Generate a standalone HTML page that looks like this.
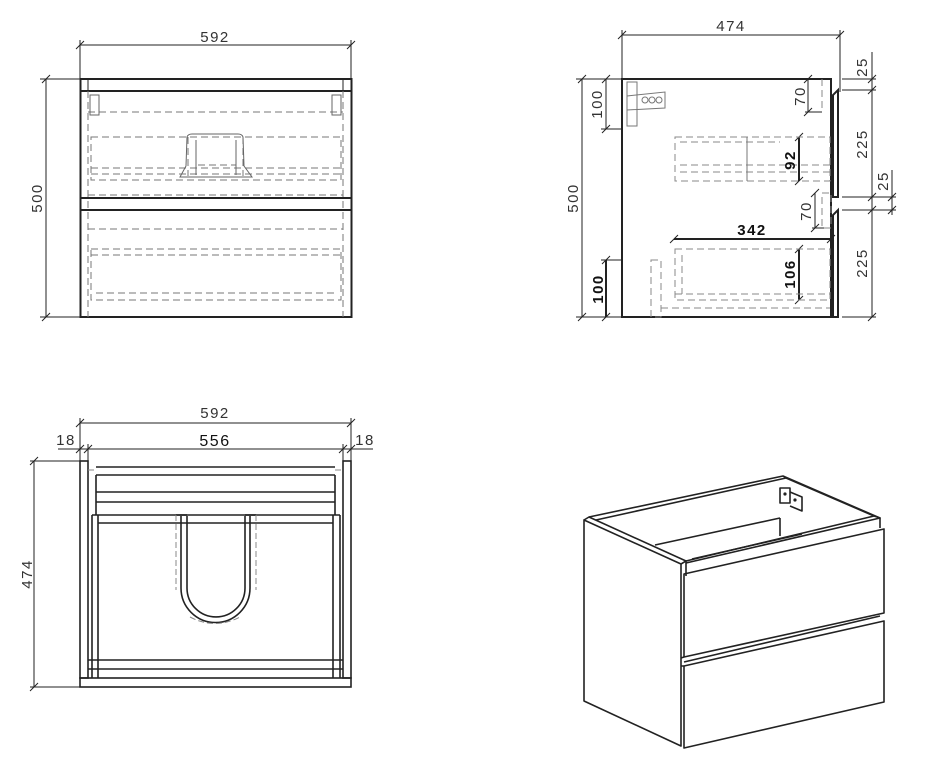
<!DOCTYPE html>
<html><head><meta charset="utf-8"><style>
html,body{margin:0;padding:0;background:#fff}
svg{display:block}
text{font-family:"Liberation Sans",sans-serif;font-size:15px;font-weight:normal;fill:#333;stroke:none;letter-spacing:1.5px}
.b{font-weight:bold;fill:#111}
</style></head><body>
<svg width="929" height="772" viewBox="0 0 929 772" xmlns="http://www.w3.org/2000/svg">
<g fill="none" stroke="#222" stroke-width="1">
<!-- ========== FRONT VIEW ========== -->
<g>
<line x1="80" y1="45" x2="351" y2="45"/>
<line x1="80" y1="40" x2="80" y2="79"/>
<line x1="351" y1="40" x2="351" y2="79"/>
<line x1="76" y1="49" x2="84" y2="41"/><line x1="347" y1="49" x2="355" y2="41"/>
<line x1="46" y1="79" x2="46" y2="317"/>
<line x1="40" y1="79" x2="80" y2="79"/><line x1="40" y1="317" x2="80" y2="317"/>
<line x1="42" y1="83" x2="50" y2="75"/><line x1="42" y1="321" x2="50" y2="313"/>
<rect x="80.5" y="79" width="271" height="238" stroke-width="2"/>
<line x1="80" y1="91" x2="351" y2="91" stroke-width="2"/>
<line x1="88" y1="79" x2="88" y2="91"/><line x1="343" y1="79" x2="343" y2="91"/>
<line x1="80" y1="198" x2="351" y2="198" stroke-width="2"/>
<line x1="80" y1="210" x2="351" y2="210" stroke-width="2"/>
<g stroke="#777" stroke-dasharray="7,4">
<line x1="88" y1="91" x2="88" y2="317"/><line x1="343" y1="91" x2="343" y2="317"/>
<line x1="88" y1="112" x2="343" y2="112"/>
<rect x="91" y="137" width="250" height="43"/>
<line x1="91" y1="168" x2="341" y2="168"/><line x1="91" y1="174" x2="341" y2="174"/>
<line x1="88" y1="195" x2="343" y2="195"/>
<line x1="88" y1="229" x2="343" y2="229"/>
<rect x="91" y="249" width="250" height="51"/>
<line x1="91" y1="255" x2="341" y2="255"/><line x1="96" y1="293" x2="336" y2="293"/>
<line x1="188" y1="137" x2="188" y2="176"/><line x1="243" y1="137" x2="243" y2="176"/>
<line x1="198" y1="165" x2="236" y2="165"/>
</g>
<g stroke="#666">
<rect x="90" y="95" width="9" height="20"/><rect x="332" y="95" width="9" height="20"/>
<path d="M180 177 L186 166 L187 137 Q188 134 192 134 L238 134 Q242 134 243 137 L244 166 L252 177 Z"/>
<line x1="196" y1="140" x2="196" y2="175"/><line x1="236" y1="140" x2="236" y2="175"/>
</g>
</g>
<text x="215" y="42" text-anchor="middle">592</text>
<text transform="translate(42,198) rotate(-90)" text-anchor="middle">500</text>

<!-- ========== SIDE VIEW ========== -->
<g>
<line x1="622" y1="35" x2="840" y2="35"/>
<line x1="622" y1="30" x2="622" y2="79"/><line x1="840" y1="30" x2="840" y2="92"/>
<line x1="618" y1="39" x2="626" y2="31"/><line x1="836" y1="39" x2="844" y2="31"/>
<line x1="582" y1="79" x2="582" y2="317"/>
<line x1="576" y1="79" x2="622" y2="79"/><line x1="576" y1="317" x2="622" y2="317"/>
<line x1="578" y1="83" x2="586" y2="75"/><line x1="578" y1="321" x2="586" y2="313"/>
<line x1="606" y1="79" x2="606" y2="129"/><line x1="601" y1="129" x2="622" y2="129"/>
<line x1="602" y1="133" x2="610" y2="125"/><line x1="602" y1="83" x2="610" y2="75"/>
<line x1="606" y1="260" x2="606" y2="317" stroke-width="2"/><line x1="601" y1="260" x2="622" y2="260"/>
<line x1="602" y1="264" x2="610" y2="256"/><line x1="602" y1="321" x2="610" y2="313"/>
<line x1="808" y1="79" x2="808" y2="112"/><line x1="805" y1="112" x2="822" y2="112"/>
<line x1="804" y1="83" x2="812" y2="75"/><line x1="804" y1="116" x2="812" y2="108"/>
<line x1="799" y1="137" x2="799" y2="181" stroke-width="2"/>
<line x1="795" y1="141" x2="803" y2="133"/><line x1="795" y1="185" x2="803" y2="177"/>
<line x1="815" y1="193" x2="815" y2="228"/><line x1="812" y1="228" x2="825" y2="228"/>
<line x1="811" y1="197" x2="819" y2="189"/><line x1="811" y1="232" x2="819" y2="224"/>
<line x1="674" y1="239" x2="831" y2="239" stroke-width="2"/>
<line x1="670" y1="243" x2="678" y2="235"/><line x1="827" y1="243" x2="835" y2="235"/>
<line x1="799" y1="249" x2="799" y2="300" stroke-width="2"/>
<line x1="795" y1="253" x2="803" y2="245"/><line x1="795" y1="304" x2="803" y2="296"/>
<line x1="872" y1="52" x2="872" y2="317"/>
<line x1="892" y1="170" x2="892" y2="215"/>
<line x1="842" y1="79" x2="876" y2="79"/><line x1="842" y1="90" x2="876" y2="90"/>
<line x1="842" y1="197" x2="896" y2="197"/><line x1="842" y1="210" x2="896" y2="210"/>
<line x1="842" y1="317" x2="876" y2="317"/>
<line x1="868" y1="83" x2="876" y2="75"/><line x1="868" y1="94" x2="876" y2="86"/>
<line x1="868" y1="201" x2="876" y2="193"/><line x1="868" y1="214" x2="876" y2="206"/>
<line x1="868" y1="321" x2="876" y2="313"/>
<line x1="888" y1="201" x2="896" y2="193"/><line x1="888" y1="214" x2="896" y2="206"/>
<path d="M622 317 L622 79 L831 79 L831 317 Z" stroke-width="2"/>
<path d="M833 197 L833 95 L838 90 L838 197 Z" stroke-width="2"/>
<path d="M833 317 L833 215 L838 210 L838 317 Z" stroke-width="2"/>
<g stroke="#888" stroke-dasharray="7,4">
<line x1="822" y1="79" x2="822" y2="112"/>
<rect x="675" y="137" width="155" height="44"/>
<line x1="680" y1="142" x2="780" y2="142"/><line x1="680" y1="165" x2="830" y2="165"/>
<line x1="680" y1="172" x2="830" y2="172"/>
<rect x="822" y="193" width="9" height="35"/>
<rect x="675" y="249" width="155" height="51"/>
<line x1="682" y1="255" x2="682" y2="294"/><line x1="675" y1="294" x2="830" y2="294"/>
<rect x="651" y="260" width="10" height="57"/>
<line x1="661" y1="308" x2="830" y2="308"/>
</g>
<g stroke="#777">
<rect x="627" y="82" width="10" height="44"/>
<path d="M627 96 L665 92 L665 108 L627 110 Z"/>
<circle cx="645" cy="100" r="3"/><circle cx="652" cy="100" r="3"/><circle cx="659" cy="100" r="3"/>
<line x1="747" y1="137" x2="747" y2="181"/>
</g>
</g>
<text x="731" y="31" text-anchor="middle">474</text>
<text transform="translate(578,198) rotate(-90)" text-anchor="middle">500</text>
<text transform="translate(602,104) rotate(-90)" text-anchor="middle">100</text>
<text class="b" transform="translate(603,289) rotate(-90)" text-anchor="middle">100</text>
<text transform="translate(805,96) rotate(-90)" text-anchor="middle">70</text>
<text class="b" transform="translate(795,160) rotate(-90)" text-anchor="middle">92</text>
<text transform="translate(811,211) rotate(-90)" text-anchor="middle">70</text>
<text class="b" x="752" y="235" text-anchor="middle">342</text>
<text class="b" transform="translate(795,274) rotate(-90)" text-anchor="middle">106</text>
<text transform="translate(867,67) rotate(-90)" text-anchor="middle">25</text>
<text transform="translate(867,144) rotate(-90)" text-anchor="middle">225</text>
<text transform="translate(888,181) rotate(-90)" text-anchor="middle">25</text>
<text transform="translate(867,263) rotate(-90)" text-anchor="middle">225</text>

<!-- ========== TOP VIEW ========== -->
<g>
<line x1="80" y1="423" x2="351" y2="423"/>
<line x1="80" y1="418" x2="80" y2="461"/><line x1="351" y1="418" x2="351" y2="461"/>
<line x1="76" y1="427" x2="84" y2="419"/><line x1="347" y1="427" x2="355" y2="419"/>
<line x1="58" y1="449" x2="373" y2="449"/>
<line x1="88" y1="444" x2="88" y2="462"/><line x1="343" y1="444" x2="343" y2="462"/>
<line x1="76" y1="453" x2="84" y2="445"/><line x1="84" y1="453" x2="92" y2="445"/>
<line x1="339" y1="453" x2="347" y2="445"/><line x1="347" y1="453" x2="355" y2="445"/>
<line x1="34" y1="461" x2="34" y2="687"/>
<line x1="30" y1="461" x2="80" y2="461"/><line x1="30" y1="687" x2="80" y2="687"/>
<line x1="30" y1="465" x2="38" y2="457"/><line x1="30" y1="691" x2="38" y2="683"/>
<g stroke-width="1.6">
<rect x="80" y="461" width="8" height="217"/><rect x="343" y="461" width="8" height="217"/>
<rect x="80" y="678" width="271" height="9"/>
<line x1="96" y1="467" x2="335" y2="467"/><line x1="96" y1="475" x2="335" y2="475"/>
<line x1="96" y1="475" x2="96" y2="515"/><line x1="335" y1="475" x2="335" y2="515"/>
<line x1="96" y1="492" x2="335" y2="492"/><line x1="96" y1="502" x2="335" y2="502"/>
<line x1="92" y1="515" x2="340" y2="515"/><line x1="98" y1="523" x2="333" y2="523"/>
<line x1="92" y1="515" x2="92" y2="678"/><line x1="98" y1="515" x2="98" y2="678"/>
<line x1="333" y1="515" x2="333" y2="678"/><line x1="340" y1="515" x2="340" y2="678"/>
<line x1="88" y1="660" x2="343" y2="660"/><line x1="88" y1="669" x2="343" y2="669"/>
<path d="M181 516 L181 588 A34.5 34.5 0 0 0 250 588 L250 516"/>
<path d="M187 516 L187 588 A28.5 28.5 0 0 0 245 588 L245 516"/>
<line x1="176" y1="515" x2="187" y2="515"/><line x1="245" y1="515" x2="256" y2="515"/>
</g>
<g stroke="#888" stroke-dasharray="6,3">
<line x1="176" y1="515" x2="176" y2="590"/><line x1="256" y1="515" x2="256" y2="590"/>
<path d="M190 617 Q215 630 240 617"/>
<line x1="88" y1="470" x2="96" y2="470"/><line x1="335" y1="470" x2="343" y2="470"/>
</g>
</g>
<text x="215" y="418" text-anchor="middle">592</text>
<text x="215" y="446" text-anchor="middle" style="font-size:16px;fill:#111">556</text>
<text x="66" y="445" text-anchor="middle">18</text>
<text x="365" y="445" text-anchor="middle">18</text>
<text transform="translate(32,574) rotate(-90)" text-anchor="middle">474</text>

<!-- ========== ISO VIEW ========== -->
<g stroke-width="1.6" stroke-linejoin="round">
<path d="M584 520 L584 701 L681 746 L681 564 Z"/>
<path d="M584 520 L589 517 L686 561 L681 564"/>
<path d="M589 517 L783 476 L786 478 L596 520"/>
<path d="M783 476 L880 518 L880 528"/>
<path d="M786 478 L874 516"/>
<path d="M681 564 L686 561 L686 576"/>
<path d="M686 561 L874 516 L880 518 L686 563"/>
<path d="M684 574 L884 529 L884 613 L684 657 Z"/>
<path d="M684 666 L884 621 L884 702 L684 748 Z"/>
<path d="M681 658 L684 657 M681 666 L684 666"/>
<path d="M684 662 L880 616"/>
<path d="M655 545 L780 518 M780 518 L780 536"/>
<path d="M692 559 L802 534"/>
<rect x="780" y="488" width="10" height="15"/>
<path d="M790 492 L802 497 L802 511 L790 506"/>
<circle cx="785" cy="494" r="0.8"/><circle cx="795" cy="500" r="0.8"/>
</g>
</g>
</svg>
</body></html>
